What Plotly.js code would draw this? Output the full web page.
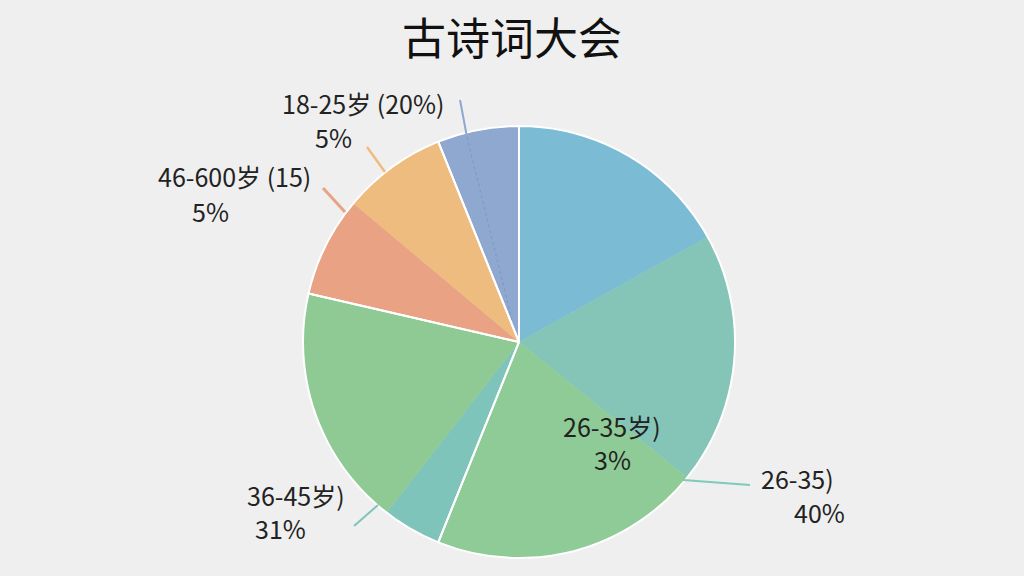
<!DOCTYPE html>
<html><head><meta charset="utf-8">
<script src="https://cdn.plot.ly/plotly-3.0.1.min.js"></script>
<style>html,body{margin:0;padding:0;background:#efefef;}#chart{width:1024px;height:576px;}</style>
</head><body><div id="chart"></div>
<script>
// slice values (percent of circle), clockwise from 12 o'clock
const sliceNames = ["A","B","C","D","E","F","G","H"];
const sliceValues = [16.9, 18.9, 20.3, 4.4, 18.1, 7.5, 7.8, 6.1];
const sliceColors = ["#7bbcd4","#84c5b8","#8ecb96","#7fc4bb","#8fca94","#e9a283","#efbc80","#8fa8cf"];
// which slices share one white-bordered sector (soft colour seams inside a sector)
const sectorOf = [0, 0, 0, 1, 1, 2, 2, 3];

// label texts as shown in the picture (each line separately)
const labelLines = ["18-25岁 (20%)", "5%", "46-600岁 (15)", "5%", "26-35岁)", "3%", "26-35)", "40%", "36-45岁)", "31%"];
const labelPos = [[363,103],[333,137],[234,176],[210,211],[612,426],[612,459],[797,478],[819,512],[296,495],[280,528]];
const leaderLines = [
  {p:[[460,100],[467,137]], c:"#8fa8cf", w:2},
  {p:[[367,147],[385,172]], c:"#efbc80", w:2.5},
  {p:[[323,188],[345,212]], c:"#e9a283", w:3},
  {p:[[683,480],[750,485]], c:"#7fcab8", w:2},
  {p:[[354,526],[378,505]], c:"#7fc4bb", w:2}
];

const W = 1024, H = 576;
const px = x => x / W, py = y => 1 - y / H;
const domain = {x: [px(303), px(735)], y: [py(558), py(126)]};

const trace = {
  type: "pie",
  labels: sliceNames,
  values: sliceValues,
  sort: false,
  direction: "clockwise",
  rotation: 0,
  textinfo: "none",
  hoverinfo: "none",
  marker: {colors: sliceColors, line: {color: sliceColors, width: 0.5}},
  domain: domain,
  showlegend: false
};
// white sector outlines drawn on top
const sectorValues = [0, 0, 0, 0];
sliceValues.forEach((v, i) => { sectorValues[sectorOf[i]] += v; });
const outline = {
  type: "pie",
  labels: ["s0","s1","s2","s3"],
  values: sectorValues,
  sort: false,
  direction: "clockwise",
  rotation: 0,
  textinfo: "none",
  hoverinfo: "none",
  marker: {colors: ["rgba(0,0,0,0)","rgba(0,0,0,0)","rgba(0,0,0,0)","rgba(0,0,0,0)"], line: {color: "#ffffff", width: 2}},
  domain: domain,
  showlegend: false
};

const font = {family: "Noto Sans CJK SC, Noto Sans, sans-serif", size: 25, color: "#222222"};
const annotations = labelLines.map((t, i) => ({
  text: t, x: px(labelPos[i][0]), y: py(labelPos[i][1]), xref: "paper", yref: "paper",
  showarrow: false, font: font, xanchor: "center", yanchor: "middle"
}));
const shapes = leaderLines.map(l => ({
  type: "line", xref: "paper", yref: "paper",
  x0: px(l.p[0][0]), y0: py(l.p[0][1]), x1: px(l.p[1][0]), y1: py(l.p[1][1]),
  line: {color: l.c, width: l.w}
}));
shapes.push({type:"line", xref:"paper", yref:"paper", x0:px(467), y0:py(137), x1:px(512), y1:py(320),
  line:{color:"#7f96c0", width:1, dash:"dot"}, layer:"above"});

const layout = {
  width: W, height: H,
  paper_bgcolor: "#efefef", plot_bgcolor: "#efefef",
  margin: {l:0, r:0, t:0, b:0},
  title: {text: "古诗词大会", x: 0.5, xanchor: "center", y: py(40), yanchor: "middle", yref: "container",
          font: {family: "Noto Sans CJK SC, sans-serif", size: 44, color: "#111111"}},
  annotations: annotations,
  shapes: shapes
};
Plotly.newPlot("chart", [trace, outline], layout, {displayModeBar: false, staticPlot: true});
</script></body></html>
